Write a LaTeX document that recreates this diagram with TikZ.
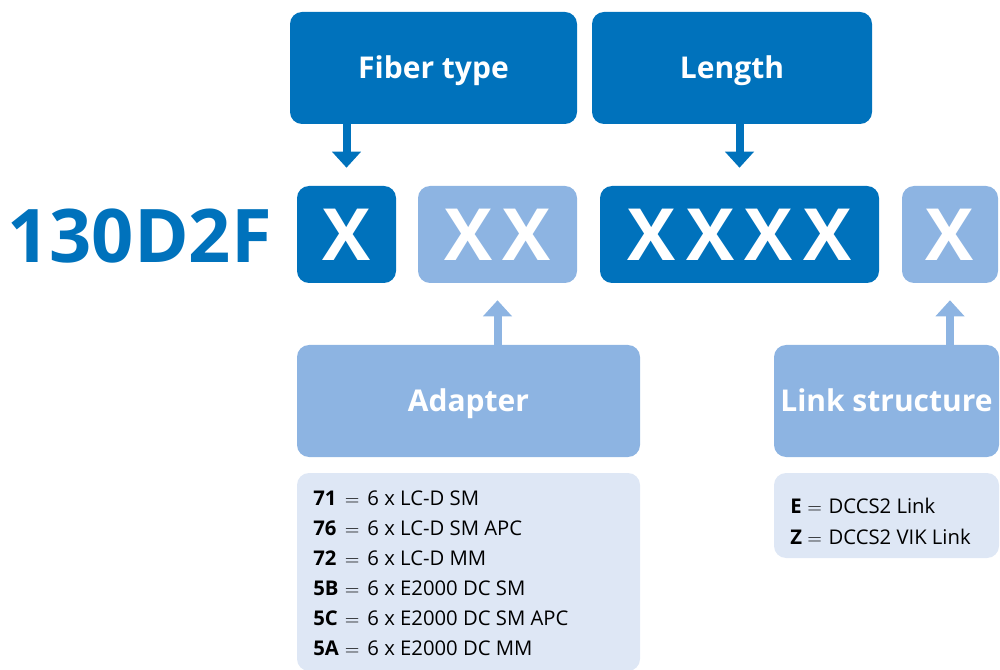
\documentclass[tikz,border=0pt]{standalone}
\usepackage{fontspec}
\setmainfont{Open Sans}
\usetikzlibrary{arrows.meta,calc}
\definecolor{dkblue}{RGB}{0,114,188}
\definecolor{ltblue}{RGB}{141,180,226}
\definecolor{paleblue}{RGB}{222,231,245}
\begin{document}
\begin{tikzpicture}[x=0.75pt,y=-0.75pt,
 box/.style={rounded corners=9pt, inner sep=0pt, text=white, font=\fontsize{22.5}{27}\selectfont\bfseries, text height=16.1pt, text depth=0pt},
 dark/.style={box, fill=dkblue},
 light/.style={box, fill=ltblue},
 pale/.style={rounded corners=9pt, fill=paleblue, inner sep=0pt},
 code/.style={font=\fontsize{54}{60}\selectfont\bfseries, text height=38.6pt, text depth=0pt},
 arr/.style={line width=6pt, -{Triangle[width=21pt,length=12pt]}},
 listtext/.style={anchor=base west, inner sep=0pt, font=\fontsize{15.2}{22.5}\selectfont},
]
\useasboundingbox (0,0) rectangle (1000,670);
% top label boxes
\node[dark, minimum width={287*0.75pt}, minimum height={112*0.75pt}] (fiber) at (433.5,68) {Fiber type};
\node[dark, minimum width={280*0.75pt}, minimum height={112*0.75pt}] (length) at (732,68) {Length};
% code boxes
\node[dark, code, minimum width={99*0.75pt}, minimum height={97*0.75pt}] (x1) at (346.5,234.5) {X};
\node[light, code, minimum width={159*0.75pt}, minimum height={97*0.75pt}] (xx) at (497.5,234.5) {X\hspace{8pt}X};
\node[dark, code, minimum width={279*0.75pt}, minimum height={97*0.75pt}] (xxxx) at (739.5,234.5) {X\hspace{8pt}X\hspace{8pt}X\hspace{8pt}X};
\node[light, code, minimum width={96*0.75pt}, minimum height={97*0.75pt}] (xl) at (950,234.5) {X};
% prefix
\node[text=dkblue, anchor=base west, inner sep=0pt, font=\fontsize{55.5}{60}\selectfont\bfseries] (prefix) at (7,263) {130D2F};
% bottom label boxes
\node[light, minimum width={343*0.75pt}, minimum height={112*0.75pt}] (adapter) at (468.5,401) {Adapter};
\node[light, minimum width={225*0.75pt}, minimum height={112*0.75pt}] (link) at (886.5,401) {Link structure};
% lists
\node[pale, minimum width={343*0.75pt}, minimum height={198*0.75pt}] (alist) at (468.5,572) {};
\node[pale, minimum width={225*0.75pt}, minimum height={85*0.75pt}] (llist) at (886.5,515.5) {};
\node[listtext] (atext) at (313,505) {\begin{tabular}[t]{@{}l@{\hspace{4.5pt}}c@{\hspace{6pt}}l@{}}
\textbf{71} & $=$ & 6 x LC-D SM\\
\textbf{76} & $=$ & 6 x LC-D SM APC\\
\textbf{72} & $=$ & 6 x LC-D MM\\
\textbf{5B} & $=$ & 6 x E2000 DC SM\\
\textbf{5C} & $=$ & 6 x E2000 DC SM APC\\
\textbf{5A} & $=$ & 6 x E2000 DC MM
\end{tabular}};
\node[listtext, font=\fontsize{15.2}{23.5}\selectfont] (ltext) at (790,513) {\begin{tabular}[t]{@{}l@{\hspace{4pt}}c@{\hspace{5pt}}l@{}}
\textbf{E} & $=$ & DCCS2 Link\\
\textbf{Z} & $=$ & DCCS2 VIK Link
\end{tabular}};
% arrows
\draw[arr, draw=dkblue] (fiber.south -| x1) -- ($(x1.north)+(0,-18)$);
\draw[arr, draw=dkblue] (length.south -| xxxx) -- ($(xxxx.north)+(0,-18)$);
\draw[arr, draw=ltblue] (adapter.north -| xx) -- ($(xx.south)+(0,17)$);
\draw[arr, draw=ltblue] (link.north -| xl) -- ($(xl.south)+(0,17)$);
\end{tikzpicture}
\end{document}
